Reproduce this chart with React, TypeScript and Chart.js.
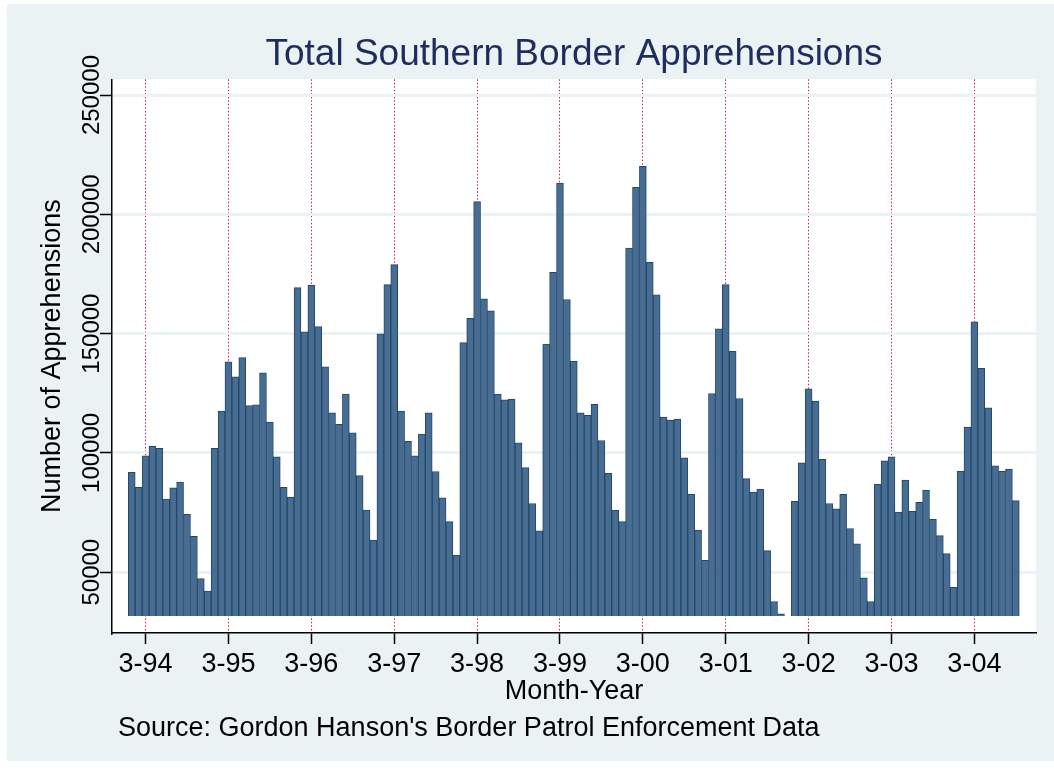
import React, { useEffect, useRef } from "react";
import { Chart, registerables } from "chart.js";

Chart.register(...registerables);

// Monthly apprehensions, January 1994 .. September 2004
const APPREHENSIONS_1994 = [91900, 85600, 98800, 102800, 101900, 80600, 85300, 87800, 74200, 65000, 47300, 42100];
const APPREHENSIONS_1995 = [101900, 117500, 138200, 131900, 139900, 119800, 120100, 133600, 112900, 98300, 85600, 81500];
const APPREHENSIONS_1996 = [169300, 150700, 170300, 152900, 136100, 116800, 112000, 124700, 108400, 90500, 76000, 63400];
const APPREHENSIONS_1997 = [149900, 170500, 178900, 117500, 104800, 98800, 107900, 116800, 92200, 81200, 71200, 57100];
const APPREHENSIONS_1998 = [146200, 156400, 205300, 164600, 159500, 124600, 122200, 122600, 104200, 93800, 78800, 67300];
const APPREHENSIONS_1999 = [145600, 175700, 213100, 164300, 138400, 116800, 115700, 120400, 105200, 91400, 76000, 71200];
const APPREHENSIONS_2000 = [185900, 211300, 220100, 179900, 166300, 115000, 113800, 114200, 97900, 82600, 67600, 55000];
const APPREHENSIONS_2001 = [124900, 152000, 170500, 142600, 122800, 89200, 83600, 84700, 59000, 37700, 32500, 31600];
const APPREHENSIONS_2002 = [79700, 95800, 126800, 121700, 97300, 78800, 76600, 82600, 68300, 61900, 47600, 37700];
const APPREHENSIONS_2003 = [86800, 96700, 98300, 75200, 88600, 75500, 79300, 84400, 72100, 65300, 57800, 43600];
const APPREHENSIONS_2004 = [92300, 110800, 154900, 135400, 118900, 94600, 92300, 93200, 80000];

const APPREHENSIONS = [
  ...APPREHENSIONS_1994, ...APPREHENSIONS_1995, ...APPREHENSIONS_1996, ...APPREHENSIONS_1997,
  ...APPREHENSIONS_1998, ...APPREHENSIONS_1999, ...APPREHENSIONS_2000, ...APPREHENSIONS_2001,
  ...APPREHENSIONS_2002, ...APPREHENSIONS_2003, ...APPREHENSIONS_2004,
];

// Month index (0 = Jan 1994) of each x tick (March of each year) and its label
const TICK_MONTH_INDEX = [2, 14, 26, 38, 50, 62, 74, 86, 98, 110, 122];
const TICK_LABELS = ["3-94", "3-95", "3-96", "3-97", "3-98", "3-99", "3-00", "3-01", "3-02", "3-03", "3-04"];
const Y_TICKS = [50000, 100000, 150000, 200000, 250000];

const X_MIN = -2.86;
const X_MAX = 130.92;
const Y_MIN = 24500;
const Y_MAX = 256600;

const TITLE = "Total Southern Border Apprehensions";
const X_TITLE = "Month-Year";
const Y_TITLE = "Number of Apprehensions";
const NOTE = "Source: Gordon Hanson's Border Patrol Enforcement Data";

const FONT = "'Liberation Sans', Arial, Helvetica, sans-serif";
const BLUISH = "#eaf2f3";

const stataPlugin = {
  id: "stataBackground",
  beforeDraw(chart: any) {
    const { ctx, chartArea, width, height } = chart;
    ctx.save();
    ctx.fillStyle = "#ffffff";
    ctx.fillRect(0, 0, width, height);
    ctx.fillStyle = BLUISH;
    ctx.fillRect(7, 4, width - 7, 757);
    ctx.fillStyle = "#ffffff";
    ctx.fillRect(chartArea.left, chartArea.top, chartArea.right - chartArea.left, chartArea.bottom - chartArea.top);
    ctx.restore();
  },
  afterDraw(chart: any) {
    const { ctx } = chart;
    ctx.save();
    ctx.fillStyle = "#000000";
    ctx.font = `27px ${FONT}`;
    ctx.textAlign = "left";
    ctx.textBaseline = "alphabetic";
    ctx.fillText(NOTE, 118, 736);
    ctx.restore();
  },
};

export default function App() {
  const canvasRef = useRef<HTMLCanvasElement | null>(null);

  useEffect(() => {
    document.body.style.margin = "0";
    const canvas = canvasRef.current;
    if (!canvas) return;
    Chart.defaults.font.family = FONT;
    const base = Math.min(...APPREHENSIONS);
    const chart = new Chart(canvas, {
      type: "bar",
      data: {
        datasets: [
          {
            data: APPREHENSIONS.map((v, i) => ({ x: i, y: v })),
            base: base,
            backgroundColor: "#486d91",
            borderColor: "#1f4870",
            borderWidth: 1,
            barPercentage: 1,
            categoryPercentage: 1,
          } as any,
        ],
      },
      options: {
        animation: false,
        responsive: false,
        maintainAspectRatio: false,
        layout: { padding: { left: 0, right: 18, top: 0, bottom: 0 } },
        plugins: {
          legend: { display: false },
          tooltip: { enabled: false },
          title: {
            display: true,
            text: TITLE,
            color: "#1f2d5c",
            fullSize: false,
            font: { family: FONT, size: 37, weight: "normal" },
            padding: { top: 33, bottom: 1.9 },
          },
        },
        scales: {
          x: {
            type: "linear",
            min: X_MIN,
            max: X_MAX,
            offset: false,
            afterBuildTicks: (s: any) => {
              s.ticks = TICK_MONTH_INDEX.map((v) => ({ value: v }));
            },
            afterFit: (s: any) => {
              s.height = 138;
            },
            ticks: {
              autoSkip: false,
              maxRotation: 0,
              minRotation: 0,
              color: "#000",
              padding: 4,
              font: { family: FONT, size: 27 },
              callback: (_v: any, i: number) => TICK_LABELS[i],
            },
            grid: {
              color: "#d01f4a",
              lineWidth: 1,
              offset: false,
              drawTicks: true,
              tickLength: 11,
              tickColor: "#000",
              tickWidth: 1.5,
              tickBorderDash: [],
            },
            border: { display: true, color: "#000", width: 1.5, dash: [1.5, 2] },
            title: {
              display: true,
              text: X_TITLE,
              color: "#000",
              font: { family: FONT, size: 27 },
              padding: { top: 0, bottom: 63.5 },
            },
          },
          y: {
            type: "linear",
            min: Y_MIN,
            max: Y_MAX,
            afterBuildTicks: (s: any) => {
              s.ticks = Y_TICKS.map((v) => ({ value: v }));
            },
            afterFit: (s: any) => {
              s.width = 112;
            },
            ticks: {
              minRotation: 90,
              maxRotation: 90,
              crossAlign: "center",
              padding: -32,
              color: "#000",
              font: { family: FONT, size: 24 },
              callback: (v: any) => String(v),
            },
            grid: {
              color: BLUISH,
              lineWidth: 3,
              tickLength: 12,
              tickColor: "#000",
              tickWidth: 1.5,
            },
            border: { display: true, color: "#000", width: 1.5 },
            title: {
              display: true,
              text: Y_TITLE,
              color: "#000",
              font: { family: FONT, size: 27 },
              padding: { top: 36.5, bottom: 0 },
            },
          },
        },
      } as any,
      plugins: [stataPlugin],
    });
    return () => chart.destroy();
  }, []);

  return <canvas ref={canvasRef} width={1054} height={771} style={{ display: "block" }} />;
}
